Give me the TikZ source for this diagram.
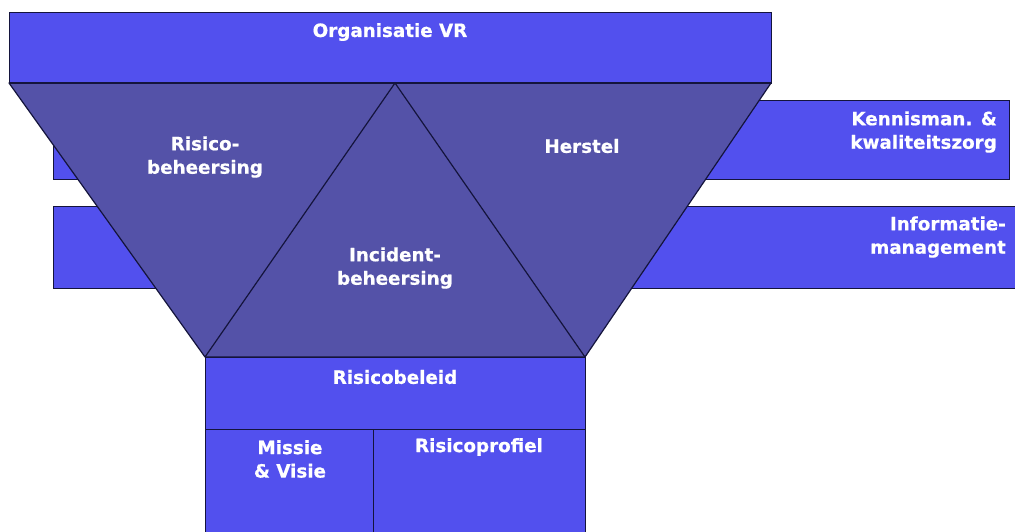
\documentclass[tikz,border=0pt]{standalone}
\usepackage{fontspec}
\setmainfont{DejaVu Sans}
\newfontfamily\heavyfont{DejaVu Sans Bold}[FakeBold=0.6]
\begin{document}
\begin{tikzpicture}[x=1pt,y=-1pt,
  bluebox/.style={fill=boxblue,draw=edgecol,line width=1pt},
  darkpart/.style={fill=trapblue,draw=edgecol,line width=1.2pt,line join=round},
  lbl/.style={text=white,font=\heavyfont\fontsize{18.3}{23.5}\selectfont,align=center,inner sep=0pt},
  lblr/.style={lbl,align=right,anchor=east}]
\definecolor{boxblue}{RGB}{82,80,238}
\definecolor{trapblue}{RGB}{84,82,168}
\definecolor{edgecol}{RGB}{20,20,60}
\useasboundingbox (0,0) rectangle (1015,531);
% side bands
\path[bluebox] (53,100) rectangle (1009,179);
\path[bluebox] (53,206) rectangle (1020,288);
% top box
\path[bluebox] (9,12) rectangle (771,83);
% coordinates of the funnel
\coordinate (tl) at (9,83);
\coordinate (tr) at (771,83);
\coordinate (apex) at (395,83);
\coordinate (bl) at (205,357);
\coordinate (br) at (585,357);
\path[darkpart] (tl) -- (tr) -- (br) -- (bl) -- cycle;
\draw[edgecol,line width=1.2pt] (bl) -- (apex) -- (br);
\draw[edgecol,line width=2.4pt] (tl) -- (tr);
% bottom boxes
\path[bluebox] (205,357) rectangle (585,429);
\path[bluebox] (205,429) rectangle (373,540);
\path[bluebox] (373,429) rectangle (585,540);
% labels
\node[lbl] (org) at (390,32) {Organisatie VR};
\node[lbl] (risb) at (205,157) {Risico-\\beheersing};
\node[lbl] (her) at (582,146) {Herstel};
\node[lbl] (inc) at (395,268) {Incident-\\beheersing};
\node[lblr] (ken) at (997,132) {Kennisman. \&\\kwaliteitszorg};
\node[lblr] (inf) at (1006,237) {Informatie-\\management};
\node[lbl] (rbl) at (395,377) {Risicobeleid};
\node[lbl] (mis) at (290,459) {Missie\\\& Visie};
\node[lbl] (rpf) at (479,447) {Risicoprofiel};
\end{tikzpicture}
\end{document}
